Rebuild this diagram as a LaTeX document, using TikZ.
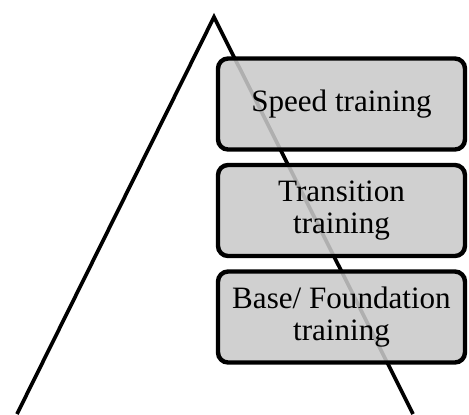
\documentclass[tikz,border=0pt]{standalone}
\usepackage{fontspec}
\setmainfont{Liberation Serif}

\begin{document}
\begin{tikzpicture}[x=0.02cm,y=-0.02cm,
  stage/.style={draw,line width=2.5pt,rounded corners=0.2cm,fill=black!21,fill opacity=0.875,text opacity=1,
    align=center,minimum width=4.94cm,minimum height=1.82cm,inner sep=0pt,font=\fontsize{17.7}{18}\selectfont}]
  \useasboundingbox (0,0) rectangle (469,414);
  % the pyramid, open at the bottom
  \coordinate (apex) at (214,17);
  \coordinate (left) at (17,414);
  \coordinate (right) at (413,414);
  \draw[line width=2.1pt] (left)--(apex)--(right);
  % training stages, top to bottom
  \node[stage] (speed) at (341.5,104) {Speed training};
  \node[stage] (transition) at (341.5,210.5) {Transition\\training};
  \node[stage] (base) at (341.5,317) {Base/ Foundation\\training};
\end{tikzpicture}
\end{document}
